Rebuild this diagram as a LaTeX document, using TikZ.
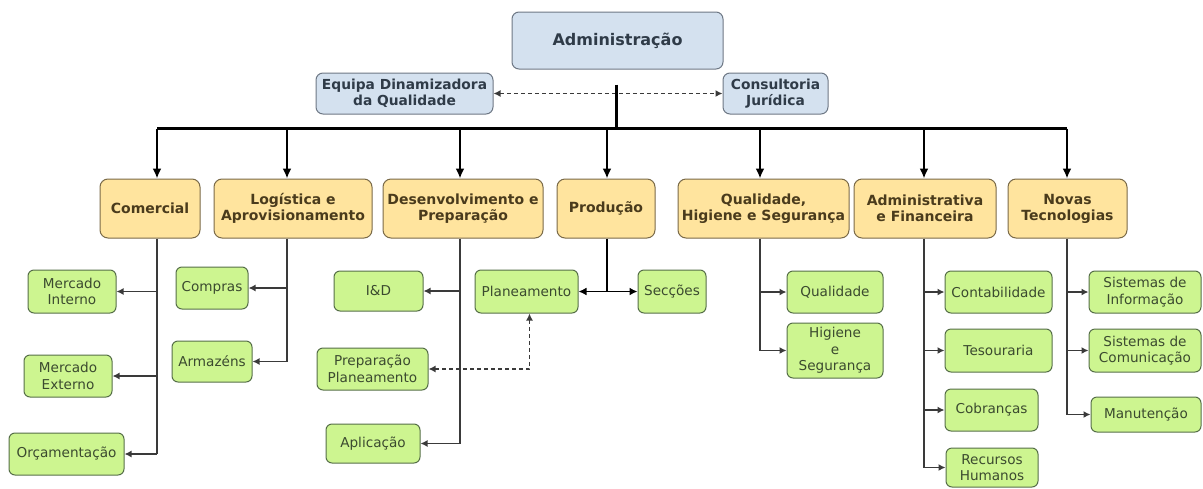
\documentclass[tikz,border=0pt]{standalone}
\usepackage{fontspec}
\setmainfont{DejaVu Sans}
\usetikzlibrary{positioning, calc, arrows.meta}

\definecolor{cBlue}{HTML}{D4E1EF}
\definecolor{cBlueLine}{HTML}{6E7885}
\definecolor{cBlueText}{HTML}{2F3B48}
\definecolor{cYellow}{HTML}{FFE49E}
\definecolor{cYellowLine}{HTML}{7A6A48}
\definecolor{cYellowText}{HTML}{4A3B1C}
\definecolor{cGreen}{HTML}{CDF590}
\definecolor{cGreenLine}{HTML}{566F48}
\definecolor{cGreenText}{HTML}{3B4A2F}
\definecolor{cLink}{HTML}{3A3A3A}

\begin{document}
\begin{tikzpicture}[
  x=1pt, y=-1pt,
  blueBox/.style={draw=cBlueLine, line width=1pt, rounded corners=7pt,
    fill=cBlue, align=center, inner sep=0pt, text=cBlueText,
    font=\bfseries\fontsize{13.8}{15.5}\selectfont},
  headBox/.style={draw=cYellowLine, line width=1pt, rounded corners=8pt,
    fill=cYellow, align=center, inner sep=0pt, text=cYellowText,
    minimum height=59pt, font=\bfseries\fontsize{14}{16}\selectfont},
  leafBox/.style={draw=cGreenLine, line width=1pt, rounded corners=6pt,
    fill=cGreen, align=center, inner sep=0pt, text=cGreenText,
    font=\fontsize{13.6}{16.5}\selectfont},
  trunk/.style={black, line width=2.2pt},
  topArrow/.style={black, line width=2pt, -{Latex[length=10pt,width=9pt]}},
  branch/.style={cLink, line width=1.5pt},
  childArrow/.style={cLink, line width=1.5pt, -{Latex[length=7pt,width=7pt]}},
  dashLink/.style={cLink, line width=1.5pt, dash pattern=on 4pt off 3pt,
    {Latex[length=7pt,width=7pt]}-{Latex[length=7pt,width=7pt]}},
]
\useasboundingbox (0,0) rectangle (1203,488);

% ---------- board ----------
\node[blueBox, minimum width=211pt, minimum height=57pt,
      font=\bfseries\fontsize{16}{19}\selectfont] (admin) at (617.5,40.5)
  {Administração};
\node[blueBox, minimum width=177pt, minimum height=41pt] (equipa) at (404.5,93.5)
  {Equipa Dinamizadora\\da Qualidade};
\node[blueBox, minimum width=105pt, minimum height=41pt] (cons) at (775.5,93.5)
  {Consultoria\\Jurídica};

\draw[dashLink] (equipa.east) -- (cons.west);

% ---------- departments ----------
\node[headBox, minimum width=100pt] (com)  at (150,208.5)   {Comercial};
\node[headBox, minimum width=158pt] (log)  at (293,208.5)   {Logística e\\Aprovisionamento};
\node[headBox, minimum width=160pt] (des)  at (463,208.5)   {Desenvolvimento e\\Preparação};
\node[headBox, minimum width=98pt]  (prod) at (606,208.5)   {Produção};
\node[headBox, minimum width=171pt] (qhs)  at (763.5,208.5) {Qualidade,\\Higiene e Segurança};
\node[headBox, minimum width=142pt] (adf)  at (925,208.5)   {Administrativa\\e Financeira};
\node[headBox, minimum width=119pt] (nov)  at (1067.5,208.5){Novas\\Tecnologias};

% trunk points under each department
\coordinate (comT)  at ([xshift=7pt]com.south);
\coordinate (logT)  at ([xshift=-6pt]log.south);
\coordinate (desT)  at ([xshift=-3pt]des.south);
\coordinate (prodT) at ([xshift=1pt]prod.south);
\coordinate (qhsT)  at ([xshift=-3.5pt]qhs.south);
\coordinate (adfT)  at ([xshift=-1pt]adf.south);
\coordinate (novT)  at ([xshift=-0.5pt]nov.south);

% ---------- bus ----------
\coordinate (hubTop) at ($(admin.south)+(-1.5,15)$);
\coordinate (hub) at ($(admin.south)+(-1.5,59)$);
\draw[black, line width=3pt] (hubTop) -- (hub);
\draw[trunk] (comT |- hub) -- (novT |- hub);
\foreach \d in {com, log, des, prod, qhs, adf, nov}
  \draw[topArrow] (\d T |- hub) -- (\d T |- \d.north);

% ---------- units ----------
\node[leafBox, minimum width=88pt,  minimum height=43pt] (mi)   at (72,291.5)    {Mercado\\Interno};
\node[leafBox, minimum width=88pt,  minimum height=42pt] (me)   at (68,376)      {Mercado\\Externo};
\node[leafBox, minimum width=115pt, minimum height=42pt] (orc)  at (66.5,454)    {Orçamentação};
\node[leafBox, minimum width=72pt,  minimum height=42pt] (comp) at (212,288)     {Compras};
\node[leafBox, minimum width=80pt,  minimum height=41pt] (arm)  at (212,361.5)   {Armazéns};
\node[leafBox, minimum width=89pt,  minimum height=40pt] (id)   at (378.5,291)   {I\&D};
\node[leafBox, minimum width=111pt, minimum height=42pt] (prep) at (372.5,369)   {Preparação\\Planeamento};
\node[leafBox, minimum width=94pt,  minimum height=39pt] (apl)  at (373,443.5)   {Aplicação};
\node[leafBox, minimum width=103pt, minimum height=43pt] (plan) at (526.5,291.5) {Planeamento};
\node[leafBox, minimum width=68pt,  minimum height=43pt] (sec)  at (672,291.5)   {Secções};
\node[leafBox, minimum width=96pt,  minimum height=42pt] (qual) at (835,292)     {Qualidade};
\node[leafBox, minimum width=96pt,  minimum height=55pt] (hig)  at (835,350.5)   {Higiene\\e\\Segurança};
\node[leafBox, minimum width=107pt, minimum height=42pt] (cont) at (998.5,292)   {Contabilidade};
\node[leafBox, minimum width=107pt, minimum height=43pt] (tes)  at (998.5,350.5) {Tesouraria};
\node[leafBox, minimum width=93pt,  minimum height=42pt] (cob)  at (991.5,410)   {Cobranças};
\node[leafBox, minimum width=92pt,  minimum height=39pt] (rh)   at (992,467.5)   {Recursos\\Humanos};
\node[leafBox, minimum width=112pt, minimum height=42pt] (si)   at (1145,292)    {Sistemas de\\Informação};
\node[leafBox, minimum width=112pt, minimum height=43pt] (sc)   at (1145,350.5)  {Sistemas de\\Comunicação};
\node[leafBox, minimum width=110pt, minimum height=35pt] (man)  at (1146,414.5)  {Manutenção};

% ---------- branches ----------
\draw[branch] (comT) -- (comT |- orc.east);
\foreach \n in {mi, me, orc}
  \draw[childArrow] (comT |- \n.east) -- (\n.east);

\draw[branch] (logT) -- (logT |- arm.east);
\foreach \n in {comp, arm}
  \draw[childArrow] (logT |- \n.east) -- (\n.east);

\draw[branch] (desT) -- (desT |- apl.east);
\foreach \n in {id, apl}
  \draw[childArrow] (desT |- \n.east) -- (\n.east);
\draw[dashLink] ([xshift=3pt]plan.south) |- (prep.east);

\draw[trunk] (prodT) -- (prodT |- plan.east);
\draw[topArrow, line width=1.8pt, -{Latex[length=8pt,width=8pt]}] (prodT |- plan.east) -- (plan.east);
\draw[topArrow, line width=1.8pt, -{Latex[length=8pt,width=8pt]}] (prodT |- sec.west) -- (sec.west);

\draw[branch] (qhsT) -- (qhsT |- hig.west);
\foreach \n in {qual, hig}
  \draw[childArrow] (qhsT |- \n.west) -- (\n.west);

\draw[branch] (adfT) -- (adfT |- rh.west);
\foreach \n in {cont, tes, cob, rh}
  \draw[childArrow] (adfT |- \n.west) -- (\n.west);

\draw[branch] (novT) -- (novT |- man.west);
\foreach \n in {si, sc, man}
  \draw[childArrow] (novT |- \n.west) -- (\n.west);

\end{tikzpicture}
\end{document}
